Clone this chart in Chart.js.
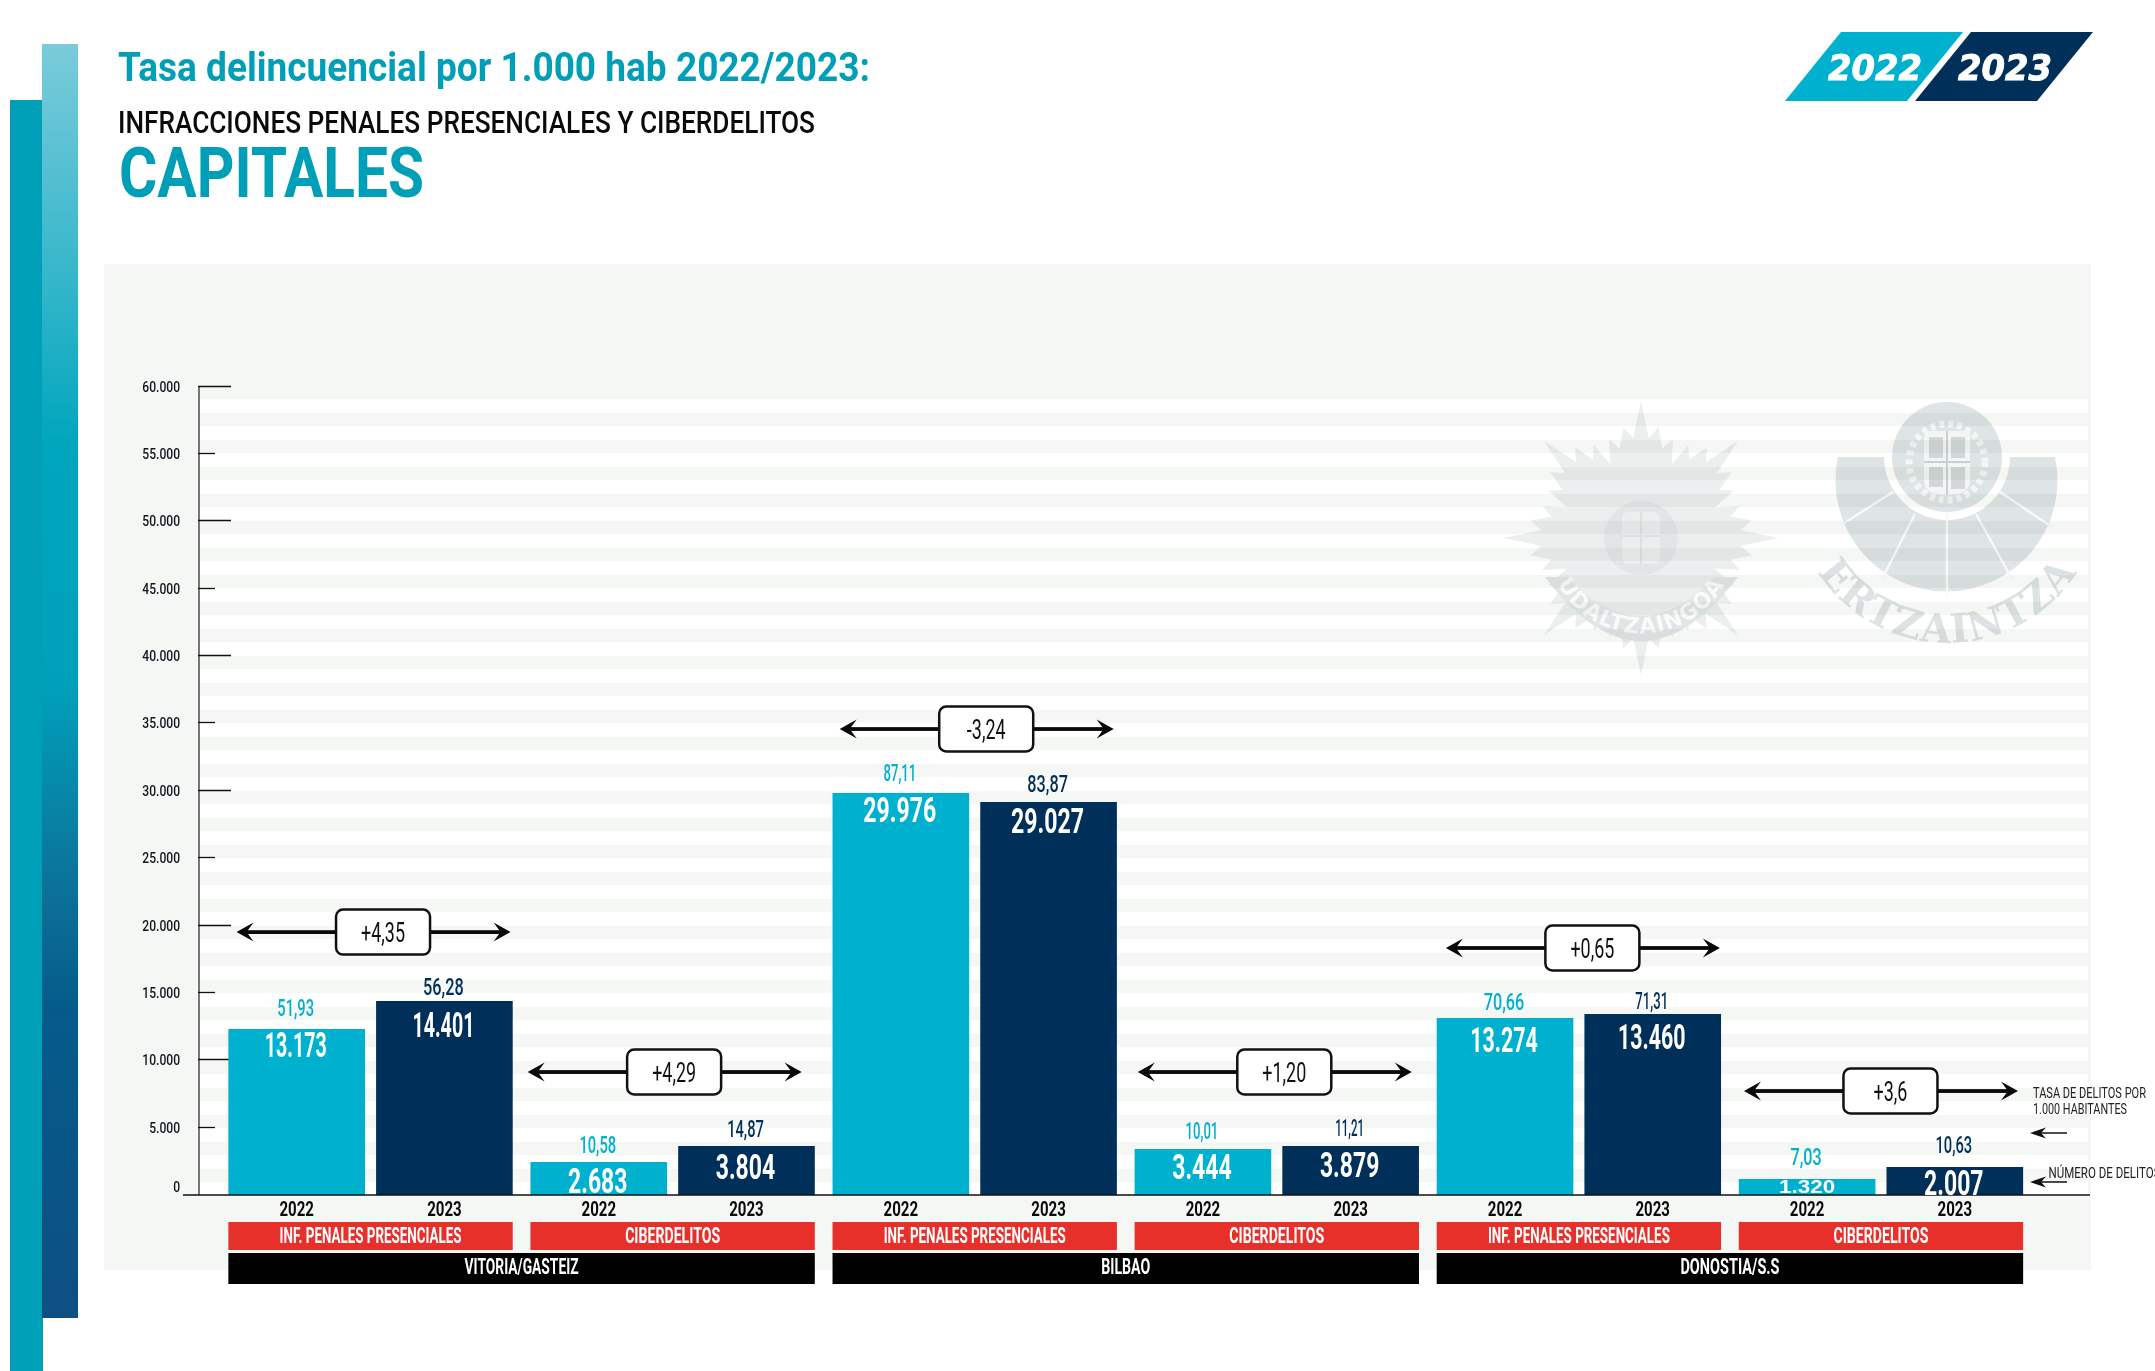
<!DOCTYPE html>
<html lang="es">
<head>
<meta charset="utf-8">
<title>Tasa delincuencial por 1.000 hab 2022/2023</title>
<script src="https://cdn.jsdelivr.net/npm/chart.js@4/dist/chart.umd.min.js"></script>
<style>
  html, body { margin: 0; padding: 0; background: #fff; }
  body { position: relative; width: 2155px; height: 1371px; overflow: hidden; }
  .capa { position: absolute; }
  #barra1 { left: 10px; top: 100px; width: 33px; height: 1271px; background: #009fb8; }
  #barra2 { left: 42px; top: 44px; width: 36px; height: 1274px;
    background: linear-gradient(#7bcbda 0, #2eb4c9 256px, #00a6bd 400px, #00a0bb 640px, #0c6f97 856px, #045b8b 966px, #0e5083 100%); }
  #fondo { left: 104px; top: 264px; width: 1987px; height: 1006px; background: #f5f7f4; }
  #rayas { left: 199px; top: 399px; width: 1889px; height: 796px;
    background: repeating-linear-gradient(#fff 0, #fff 14px, #f5f7f4 14px, #f5f7f4 27px); }
  #marcas { left: 0; top: 0; mix-blend-mode: multiply; }
  #cabecera { left: 0; top: 0; }
  #grafico { left: 0; top: 0; }
  svg text { font-family: Roboto, sans-serif; }
</style>
</head>
<body>
<div class="capa" id="barra1"></div>
<div class="capa" id="barra2"></div>
<div class="capa" id="fondo"></div>
<div class="capa" id="rayas"></div>

<svg class="capa" id="marcas" width="2155" height="1371">
  <defs>
    <path id="arcoUdal" d="M1549 562 A95 95 0 0 0 1733 562"/>
    <path id="arcoErtz" d="M1812 562 A154 154 0 0 0 2083 562"/>
  </defs>
  <polygon id="estrella" fill="#eceeef"/>
  <circle cx="1641" cy="538" r="37" fill="#e2e5e7"/>
  <path d="M1545 577 Q1641 705 1738 577 L1715 577 Q1641 655 1567 577 Z" fill="#e1e5e7"/>
  <rect x="1622" y="512" width="38" height="52" rx="6" fill="#ebedee"/>
  <path d="M1641 512 V564 M1622 536 H1660" stroke="#dce0e2" stroke-width="2"/>
  <text fill="#f9fafa" font-size="22" font-weight="700" letter-spacing="1" style="font-family:'DejaVu Sans'">
    <textPath href="#arcoUdal" startOffset="50%" text-anchor="middle">UDALTZAINGOA</textPath>
  </text>

  <path d="M1838 457 L1884 457 A63 63 0 0 0 2010 457 L2055 457 A111 111 0 1 1 1838 457 Z" fill="#dfe4e6"/>
  <path d="M1947 512 V598 M1915 514 L1882 579 M1976 514 L2012 579 M1893 492 L1841 525 M2000 492 L2052 527" stroke="#f8f9f9" stroke-width="2.5" fill="none"/>
  <circle cx="1947" cy="457" r="55" fill="#dfe4e6"/>
  <circle cx="1947" cy="462" r="38" fill="none" stroke="#f4f5f5" stroke-width="7" stroke-dasharray="5 4"/>
  <path d="M1924 431 H1970 V480 Q1970 495 1947 495 Q1924 495 1924 480 Z" fill="#f4f5f5"/>
  <path d="M1947 431 V495 M1924 462 H1970" stroke="#c9d0d3" stroke-width="2"/>
  <path d="M1929 437 h14 v21 h-14 Z M1951 437 h14 v21 h-14 Z M1929 467 h14 v20 h-14 Z M1951 467 h14 v22 h-14 Z" fill="#d2d8da"/>
  <text fill="#dde2e4" font-size="40" font-weight="700" letter-spacing="1" style="font-family:'DejaVu Serif'">
    <textPath href="#arcoErtz" startOffset="50%" text-anchor="middle">ERTZAINTZA</textPath>
  </text>
</svg>

<svg class="capa" id="cabecera" width="2155" height="1371">
  <text x="118" y="81" font-size="41" font-weight="700" fill="#009fb8" textLength="752" lengthAdjust="spacingAndGlyphs">Tasa delincuencial por 1.000 hab 2022/2023:</text>
  <text x="118" y="133" font-size="32" font-weight="500" fill="#0a0a0a" textLength="697" lengthAdjust="spacingAndGlyphs">INFRACCIONES PENALES PRESENCIALES Y CIBERDELITOS</text>
  <text x="119" y="197" font-size="71" font-weight="700" fill="#009fb8" textLength="305" lengthAdjust="spacingAndGlyphs">CAPITALES</text>

  <polygon points="1841,32 1963,32 1907,101 1785,101" fill="#00b0cf"/>
  <polygon points="1971,32 2093,32 2037,101 1915,101" fill="#00305a"/>
  <text x="1828" y="80" font-size="36" font-weight="700" font-style="italic" fill="#fff" stroke="#fff" stroke-width="1" textLength="94" lengthAdjust="spacingAndGlyphs" style="font-family:'DejaVu Sans'">2022</text>
  <text x="1958" y="80" font-size="36" font-weight="700" font-style="italic" fill="#fff" stroke="#fff" stroke-width="1" textLength="94" lengthAdjust="spacingAndGlyphs" style="font-family:'DejaVu Sans'">2023</text>

  <text x="2033" y="1098" font-size="15" fill="#222" textLength="113" lengthAdjust="spacingAndGlyphs">TASA DE DELITOS POR</text>
  <text x="2033" y="1114" font-size="15" fill="#222" textLength="94" lengthAdjust="spacingAndGlyphs">1.000 HABITANTES</text>
  <text x="2048.5" y="1178" font-size="15" fill="#222" textLength="112" lengthAdjust="spacingAndGlyphs">NÚMERO DE DELITOS</text>
  <path d="M2040 1133 H2067 M2040 1182 H2067" stroke="#111" stroke-width="1.3"/>
  <path d="M2030 1133 L2046 1127.5 L2041 1133 L2046 1138.5 Z M2030 1182 L2046 1176.5 L2041 1182 L2046 1187.5 Z" fill="#111"/>
</svg>

<canvas class="capa" id="grafico" width="2155" height="1371"></canvas>

<script>
// Datos
const tipos = ['INF. PENALES PRESENCIALES', 'CIBERDELITOS', 'INF. PENALES PRESENCIALES', 'CIBERDELITOS', 'INF. PENALES PRESENCIALES', 'CIBERDELITOS'];
const ciudades = ['VITORIA/GASTEIZ', 'BILBAO', 'DONOSTIA/S.S'];
const anios = ['2022', '2023'];
const etiquetasY = ['0', '5.000', '10.000', '15.000', '20.000', '25.000', '30.000', '35.000', '40.000', '45.000', '50.000', '55.000', '60.000'];

// Altura de cada barra leida sobre el eje (en el original no siempre coincide con la cifra impresa)
const barras2022 = [12320, 2450, 29830, 3415, 13135, 1190];
const barras2023 = [14400, 3640, 29165, 3640, 13430, 2080];

// Cifras impresas
const numeros2022 = ['13.173', '2.683', '29.976', '3.444', '13.274', '1.320'];
const numeros2023 = ['14.401', '3.804', '29.027', '3.879', '13.460', '2.007'];
const tasas2022 = ['51,93', '10,58', '87,11', '10,01', '70,66', '7,03'];
const tasas2023 = ['56,28', '14,87', '83,87', '11,21', '71,31', '10,63'];
const variacion = ['+4,35', '+4,29', '-3,24', '+1,20', '+0,65', '+3,6'];

const CIAN = '#00b0cf';
const AZUL = '#00305a';
const ROJO = '#e8302a';
const FUENTE = 'Roboto, sans-serif';

// Ajustes de maquetacion de las etiquetas
const nivelFlecha = [19510, 9125, 34580, 9125, 18330, 7715];
const despFlecha = [3, -8, 2, -2, 4, 0];
const separaTasa = [[13, 9, 12, 10, 8, 14], [6, 9, 10, 10, 5, 14]];
const bajaNumero = [[28, 31, 29, 30, 34, 14], [36, 33, 31, 31, 35, 28]];

// La tipografia original es muy condensada: se aprieta el texto en horizontal
function texto(ctx, str, x, y, font, color, opt) {
    opt = opt || {};
    ctx.save();
    ctx.font = font;
    ctx.fillStyle = color;
    ctx.textBaseline = 'alphabetic';
    ctx.textAlign = 'left';
    const natural = ctx.measureText(str).width;
    const sx = opt.ancho ? opt.ancho / natural : (opt.sx || 1);
    const x0 = opt.derecha ? x - natural * sx : x - natural * sx / 2;
    ctx.translate(x0, y);
    ctx.scale(sx, 1);
    ctx.fillText(str, 0, 0);
    ctx.restore();
}

// Ancho de una cifra en la tipografia original (el 1 es mucho mas estrecho)
function anchoCifra(str, digito, uno, signo) {
    let a = 0;
    for (const c of str) a += c === '1' ? uno : (c === ',' || c === '.' ? signo : digito);
    return a;
}

function punta(ctx, x, y, dir, largo, alto, muesca) {
    ctx.beginPath();
    ctx.moveTo(x, y);
    ctx.lineTo(x + dir * largo, y - alto);
    ctx.lineTo(x + dir * muesca, y);
    ctx.lineTo(x + dir * largo, y + alto);
    ctx.closePath();
    ctx.fill();
}

const ejePropio = {
    id: 'ejePropio',
    beforeDatasetsDraw(chart) {
        const ctx = chart.ctx;
        const y = chart.scales.y;
        const ejeX = 199;
        ctx.save();
        ctx.strokeStyle = '#777';
        ctx.lineWidth = 2;
        ctx.beginPath();
        ctx.moveTo(ejeX, y.getPixelForValue(60000));
        ctx.lineTo(ejeX, y.getPixelForValue(0));
        ctx.stroke();
        ctx.strokeStyle = '#111';
        ctx.lineWidth = 1.3;
        y.ticks.forEach((t, i) => {
            const py = Math.round(y.getPixelForValue(t.value)) - 0.5;
            if (i > 0) {
                ctx.beginPath();
                ctx.moveTo(ejeX - 1, py);
                ctx.lineTo(i % 2 === 0 ? 231 : 215, py);
                ctx.stroke();
            }
            // el 0 va algo por encima de la linea base
            const base = i === 0 ? py - 2.5 : py + 5.5;
            texto(ctx, etiquetasY[i], 180, base, '500 15.5px ' + FUENTE, '#14141f', { sx: 0.78, derecha: true });
        });
        ctx.restore();
    },
    afterDatasetsDraw(chart) {
        const ctx = chart.ctx;
        const y = chart.scales.y;
        const base = y.getPixelForValue(0);
        ctx.save();
        ctx.strokeStyle = '#111';
        ctx.lineWidth = 1.5;
        ctx.beginPath();
        ctx.moveTo(183, base);
        ctx.lineTo(2090, base);
        ctx.stroke();
        ctx.restore();

        const m22 = chart.getDatasetMeta(0).data;
        const m23 = chart.getDatasetMeta(1).data;

        // etiquetas de cada barra
        [m22, m23].forEach((meta, d) => {
            const numeros = d === 0 ? numeros2022 : numeros2023;
            const tasas = d === 0 ? tasas2022 : tasas2023;
            const color = d === 0 ? CIAN : AZUL;
            meta.forEach((bar, i) => {
                texto(ctx, tasas[i], bar.x - 1, bar.y - separaTasa[d][i], '500 24px ' + FUENTE, color, { ancho: anchoCifra(tasas[i], 9.4, 5.5, 3) });
                if (numeros[i] === '1.320') {
                    texto(ctx, numeros[i], bar.x, bar.y + bajaNumero[d][i], 'bold 18px "Liberation Sans", sans-serif', '#fff', { ancho: 56 });
                } else {
                    texto(ctx, numeros[i], bar.x - 1, bar.y + bajaNumero[d][i], 'bold 35px ' + FUENTE, '#fff', { ancho: anchoCifra(numeros[i], 13.5, 8, 5.5) });
                }
                texto(ctx, anios[d], bar.x, base + 21, 'bold 21px ' + FUENTE, '#0a0a0a', { ancho: 34.5 });
            });
        });

        // bandas roja (tipo) y negra (ciudad)
        const anchoTipo = { 'INF. PENALES PRESENCIALES': 182, 'CIBERDELITOS': 95 };
        const anchoCiudad = [114, 49, 99];
        tipos.forEach((tipo, i) => {
            const x0 = m22[i].x - m22[i].width / 2;
            const x1 = m23[i].x + m23[i].width / 2;
            ctx.fillStyle = ROJO;
            ctx.fillRect(x0, base + 27, x1 - x0, 28);
            texto(ctx, tipo, (x0 + x1) / 2, base + 48, 'bold 22px ' + FUENTE, '#fff', { ancho: anchoTipo[tipo] });
        });
        ciudades.forEach((ciudad, c) => {
            const a = c * 2;
            const x0 = m22[a].x - m22[a].width / 2;
            const x1 = m23[a + 1].x + m23[a + 1].width / 2;
            ctx.fillStyle = '#000';
            ctx.fillRect(x0, base + 58, x1 - x0, 31);
            texto(ctx, ciudad, (x0 + x1) / 2, base + 79, 'bold 22px ' + FUENTE, '#fff', { ancho: anchoCiudad[c] });
        });

        // flechas con la variacion de la tasa
        variacion.forEach((v, i) => {
            const cx = (m22[i].x + m23[i].x) / 2 + despFlecha[i];
            const py = y.getPixelForValue(nivelFlecha[i]);
            const semi = 137;
            ctx.save();
            ctx.fillStyle = '#0a0a0a';
            ctx.fillRect(cx - semi + 8, py - 1.9, 2 * semi - 16, 3.8);
            punta(ctx, cx - semi, py, 1, 17, 9.5, 10);
            punta(ctx, cx + semi, py, -1, 17, 9.5, 10);
            const bx = cx + 9.5;
            ctx.beginPath();
            ctx.roundRect(bx - 47, py - 22.5, 94, 45, 7);
            ctx.fillStyle = '#fff';
            ctx.fill();
            ctx.lineWidth = 2.5;
            ctx.strokeStyle = '#111';
            ctx.stroke();
            ctx.restore();
            texto(ctx, v, bx, py + 10, '28px ' + FUENTE, '#111', { sx: 0.64 });
        });
    }
};

// estrella de fondo
(function () {
    const radios = [137, 100, 112, 92, 104, 80, 104, 92, 112, 100];
    const puntos = [];
    for (let k = 0; k < 80; k++) {
        const ang = k * Math.PI / 40 - Math.PI / 2;
        const r = radios[k % 10];
        puntos.push((1641 + r * Math.cos(ang)).toFixed(1) + ',' + (538 + r * Math.sin(ang)).toFixed(1));
    }
    document.getElementById('estrella').setAttribute('points', puntos.join(' '));
})();

new Chart(document.getElementById('grafico').getContext('2d'), {
    type: 'bar',
    data: {
        labels: tipos,
        datasets: [
            { label: anios[0], data: barras2022, backgroundColor: CIAN },
            { label: anios[1], data: barras2023, backgroundColor: AZUL }
        ]
    },
    options: {
        responsive: false,
        animation: false,
        devicePixelRatio: 1,
        layout: { padding: { top: 386.5, right: 123, bottom: 176, left: 0 } },
        datasets: { bar: { categoryPercentage: 0.978, barPercentage: 0.925 } },
        plugins: { legend: { display: false }, tooltip: { enabled: false }, title: { display: false } },
        scales: {
            x: { display: false },
            y: {
                min: 0,
                max: 60000,
                afterFit: s => { s.width = 219.5; },
                border: { display: false },
                grid: { display: false },
                ticks: { display: false, stepSize: 5000 }
            }
        }
    },
    plugins: [ejePropio]
});
</script>
</body>
</html>
